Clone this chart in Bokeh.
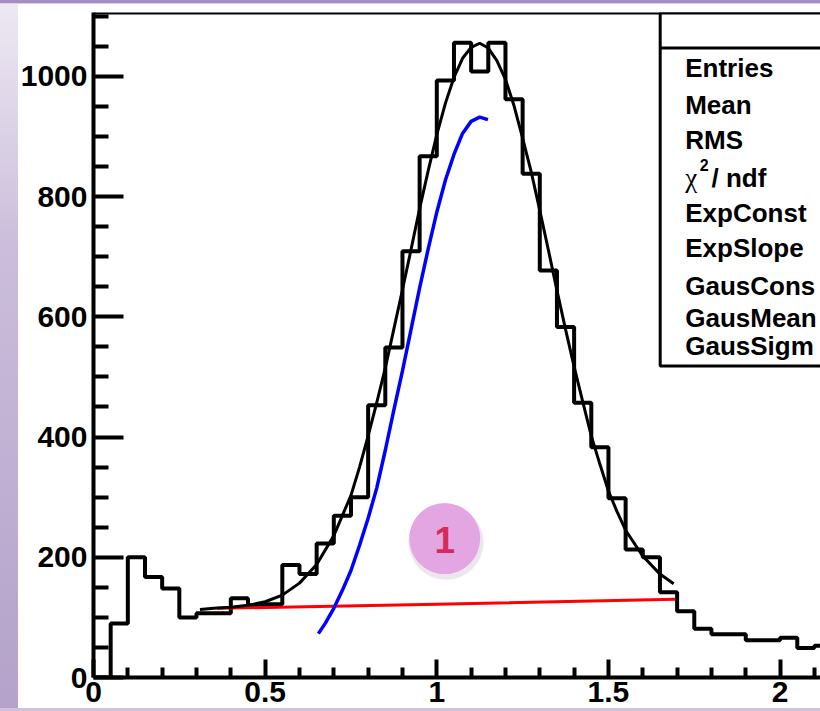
from bokeh.plotting import figure
from bokeh.models import FixedTicker, Span, GlobalInlineStyleSheet
from bokeh.core.properties import value
from bokeh.embed import file_html
from bokeh.resources import INLINE

# ---------------- data ----------------
bin_low = 0.0
bin_width = 0.05
counts = [0, 90, 200, 167, 148, 100, 107, 107, 132, 120,
          122, 187, 172, 223, 269, 300, 453, 549, 709, 867,
          993, 1056, 1008, 1056, 962, 838, 677, 583, 457, 383,
          298, 213, 200, 142, 110, 81, 72, 72, 62, 62,
          66, 49, 53]

# total fit (black)
fit_x = [0.31, 0.35, 0.40, 0.45, 0.50, 0.55, 0.60, 0.65, 0.70, 0.75,
         0.775, 0.80, 0.825, 0.85, 0.875, 0.90, 0.925, 0.95, 0.975, 1.00,
         1.025, 1.05, 1.075, 1.10, 1.125, 1.15, 1.175, 1.20, 1.225, 1.25,
         1.275, 1.30, 1.325, 1.35, 1.375, 1.40, 1.425, 1.45, 1.475, 1.50,
         1.525, 1.55, 1.60, 1.65, 1.69]
fit_y = [113, 115, 117, 120, 126, 137, 157, 188, 236, 303,
         350, 402, 457, 515, 580, 645, 712, 780, 843, 903,
         955, 998, 1030, 1048, 1055, 1047, 1026, 995, 951, 897,
         841, 777, 711, 644, 579, 517, 459, 402, 355, 310,
         276, 245, 202, 172, 156]

# gaussian component (blue)
gaus_x = [0.655, 0.675, 0.70, 0.725, 0.75, 0.775, 0.80, 0.825, 0.85, 0.875,
          0.90, 0.925, 0.95, 0.975, 1.00, 1.025, 1.05, 1.075, 1.10, 1.125,
          1.149]
gaus_y = [73, 90, 115, 145, 178, 220, 265, 315, 378, 445,
          510, 579, 648, 713, 774, 827, 870, 905, 925, 932,
          928]

# exponential background (red)
bkg_x = [0.36, 1.0, 1.695]
bkg_y = [115, 122, 130]

x_ticks = [0, 0.5, 1, 1.5, 2]
x_tick_labels = ["0", "0.5", "1", "1.5", "2"]
x_minor = [0.1, 0.2, 0.3, 0.4, 0.6, 0.7, 0.8, 0.9, 1.1, 1.2, 1.3, 1.4,
           1.6, 1.7, 1.8, 1.9, 2.1]
y_ticks = [0, 200, 400, 600, 800, 1000]
y_tick_labels = ["0", "200", "400", "600", "800", "1000"]
y_minor = [50, 100, 150, 250, 300, 350, 450, 500, 550, 650, 700, 750,
           850, 900, 950, 1050, 1100]

# stats box labels as visible in the (cropped) reference
stat_labels = ["Entries", "Mean", "RMS", "ExpConst", "ExpSlope",
               "GausCons", "GausMean", "GausSigm"]
badge_text = "1"

# ---------------- layout ----------------
W, H = 820, 711
B_LEFT, B_TOP, B_BOTTOM = 93, 12, 34
X_END = (W - B_LEFT) / 343.3
Y_END = (H - B_TOP - B_BOTTOM) / 0.6012

page_css = GlobalInlineStyleSheet(css="""
html { min-height: 100%; background:
  linear-gradient(to bottom, #a48cc4 0px, #a48cc4 3px, #d9d3e0 3px, #d9d3e0 4px, transparent 4px),
  linear-gradient(to top, #cdc2da 0px, #cdc2da 3px, transparent 3px),
  linear-gradient(to right, transparent 0px, transparent 18px, #ffffff 18px),
  linear-gradient(to bottom, #eee9f3 0%, #cbbddb 35%, #b4a2ca 100%); }
body { background: transparent; }
""")

p = figure(width=W, height=H, x_range=(0, X_END), y_range=(0, Y_END),
           output_backend="svg", toolbar_location=None,
           min_border_left=B_LEFT, min_border_right=0,
           min_border_top=B_TOP, min_border_bottom=B_BOTTOM,
           background_fill_color="white", border_fill_color=None,
           outline_line_color=None)
p.stylesheets = [page_css]
p.grid.visible = False

for ax, ticks, minor, labels, tin, mtin, standoff in (
        (p.xaxis, x_ticks, x_minor, x_tick_labels, 18, 10, 4),
        (p.yaxis, y_ticks, y_minor, y_tick_labels, 30, 15, 6)):
    ax.ticker = FixedTicker(ticks=ticks, minor_ticks=minor)
    ax.major_label_overrides = {t: l for t, l in zip(ticks, labels)}
    ax.axis_line_width = 4
    ax.axis_line_color = "black"
    ax.major_tick_in = tin
    ax.major_tick_out = 0
    ax.minor_tick_in = mtin
    ax.minor_tick_out = 0
    ax.major_tick_line_width = 4
    ax.minor_tick_line_width = 4
    ax.major_label_text_font = "Liberation Sans"
    ax.major_label_text_font_style = "bold"
    ax.major_label_text_font_size = "30px"
    ax.major_label_text_color = "black"
    ax.major_label_standoff = standoff

# histogram outline
edges = [bin_low + i * bin_width for i in range(len(counts) + 1)]
p.step(edges, counts + [counts[-1]], mode="after", line_color="black",
       line_width=4)

# fit curves
p.line(bkg_x, bkg_y, line_color="#ff0000", line_width=3)
p.line(fit_x, fit_y, line_color="black", line_width=3)
p.line(gaus_x, gaus_y, line_color="#0000ff", line_width=3.5)

# frame top line
p.add_layout(Span(location=Y_END, dimension="width", line_color="black",
                  line_width=4))

# stats box
BOX_L, BOX_R, BOX_B, HEAD_Y = 1.6507, 2.6, 518, 1047
p.quad(left=[BOX_L], right=[BOX_R], top=[Y_END], bottom=[BOX_B],
       fill_color="white", line_color="black", line_width=3)
p.segment(x0=[BOX_L], y0=[HEAD_Y], x1=[BOX_R], y1=[HEAD_Y],
          line_color="black", line_width=3)
TX = 1.7236
row_y = [1013, 953, 894, 773, 715, 651, 598, 551]
p.text(x=[TX] * len(stat_labels), y=row_y, text=stat_labels,
       text_font=value("Liberation Sans"), text_font_style="bold",
       text_font_size="26px", text_color="black",
       text_baseline="alphabetic", text_align="left")
# chi2 / ndf row
p.text(x=[TX], y=[831], text=["χ"], text_font=value("Liberation Serif"),
       text_font_size="27px", text_color="black", text_baseline="alphabetic")
p.text(x=[1.766], y=[853], text=["2"], text_font=value("Liberation Sans"),
       text_font_style="bold", text_font_size="16px", text_color="black",
       text_baseline="alphabetic")
p.text(x=[1.800], y=[831], text=["/ ndf"], text_font=value("Liberation Sans"),
       text_font_style="bold", text_font_size="26px", text_color="black",
       text_baseline="alphabetic")

# numbered badge
BX, BY = 1.023, 231
p.scatter(x=[BX + 0.004], y=[BY - 6], size=75, marker="circle",
          fill_color="#8a5a8a", fill_alpha=0.15, line_color=None)
p.scatter(x=[BX], y=[BY], size=71, marker="circle",
          fill_color="#e4a5e3", line_color=None)
p.text(x=[BX], y=[BY - 2], text=[badge_text], text_font=value("Liberation Sans"),
       text_font_style="bold", text_font_size="37px", text_color="#d62a5c",
       text_align="center", text_baseline="middle")

open("out.html", "w").write(file_html(p, INLINE))
